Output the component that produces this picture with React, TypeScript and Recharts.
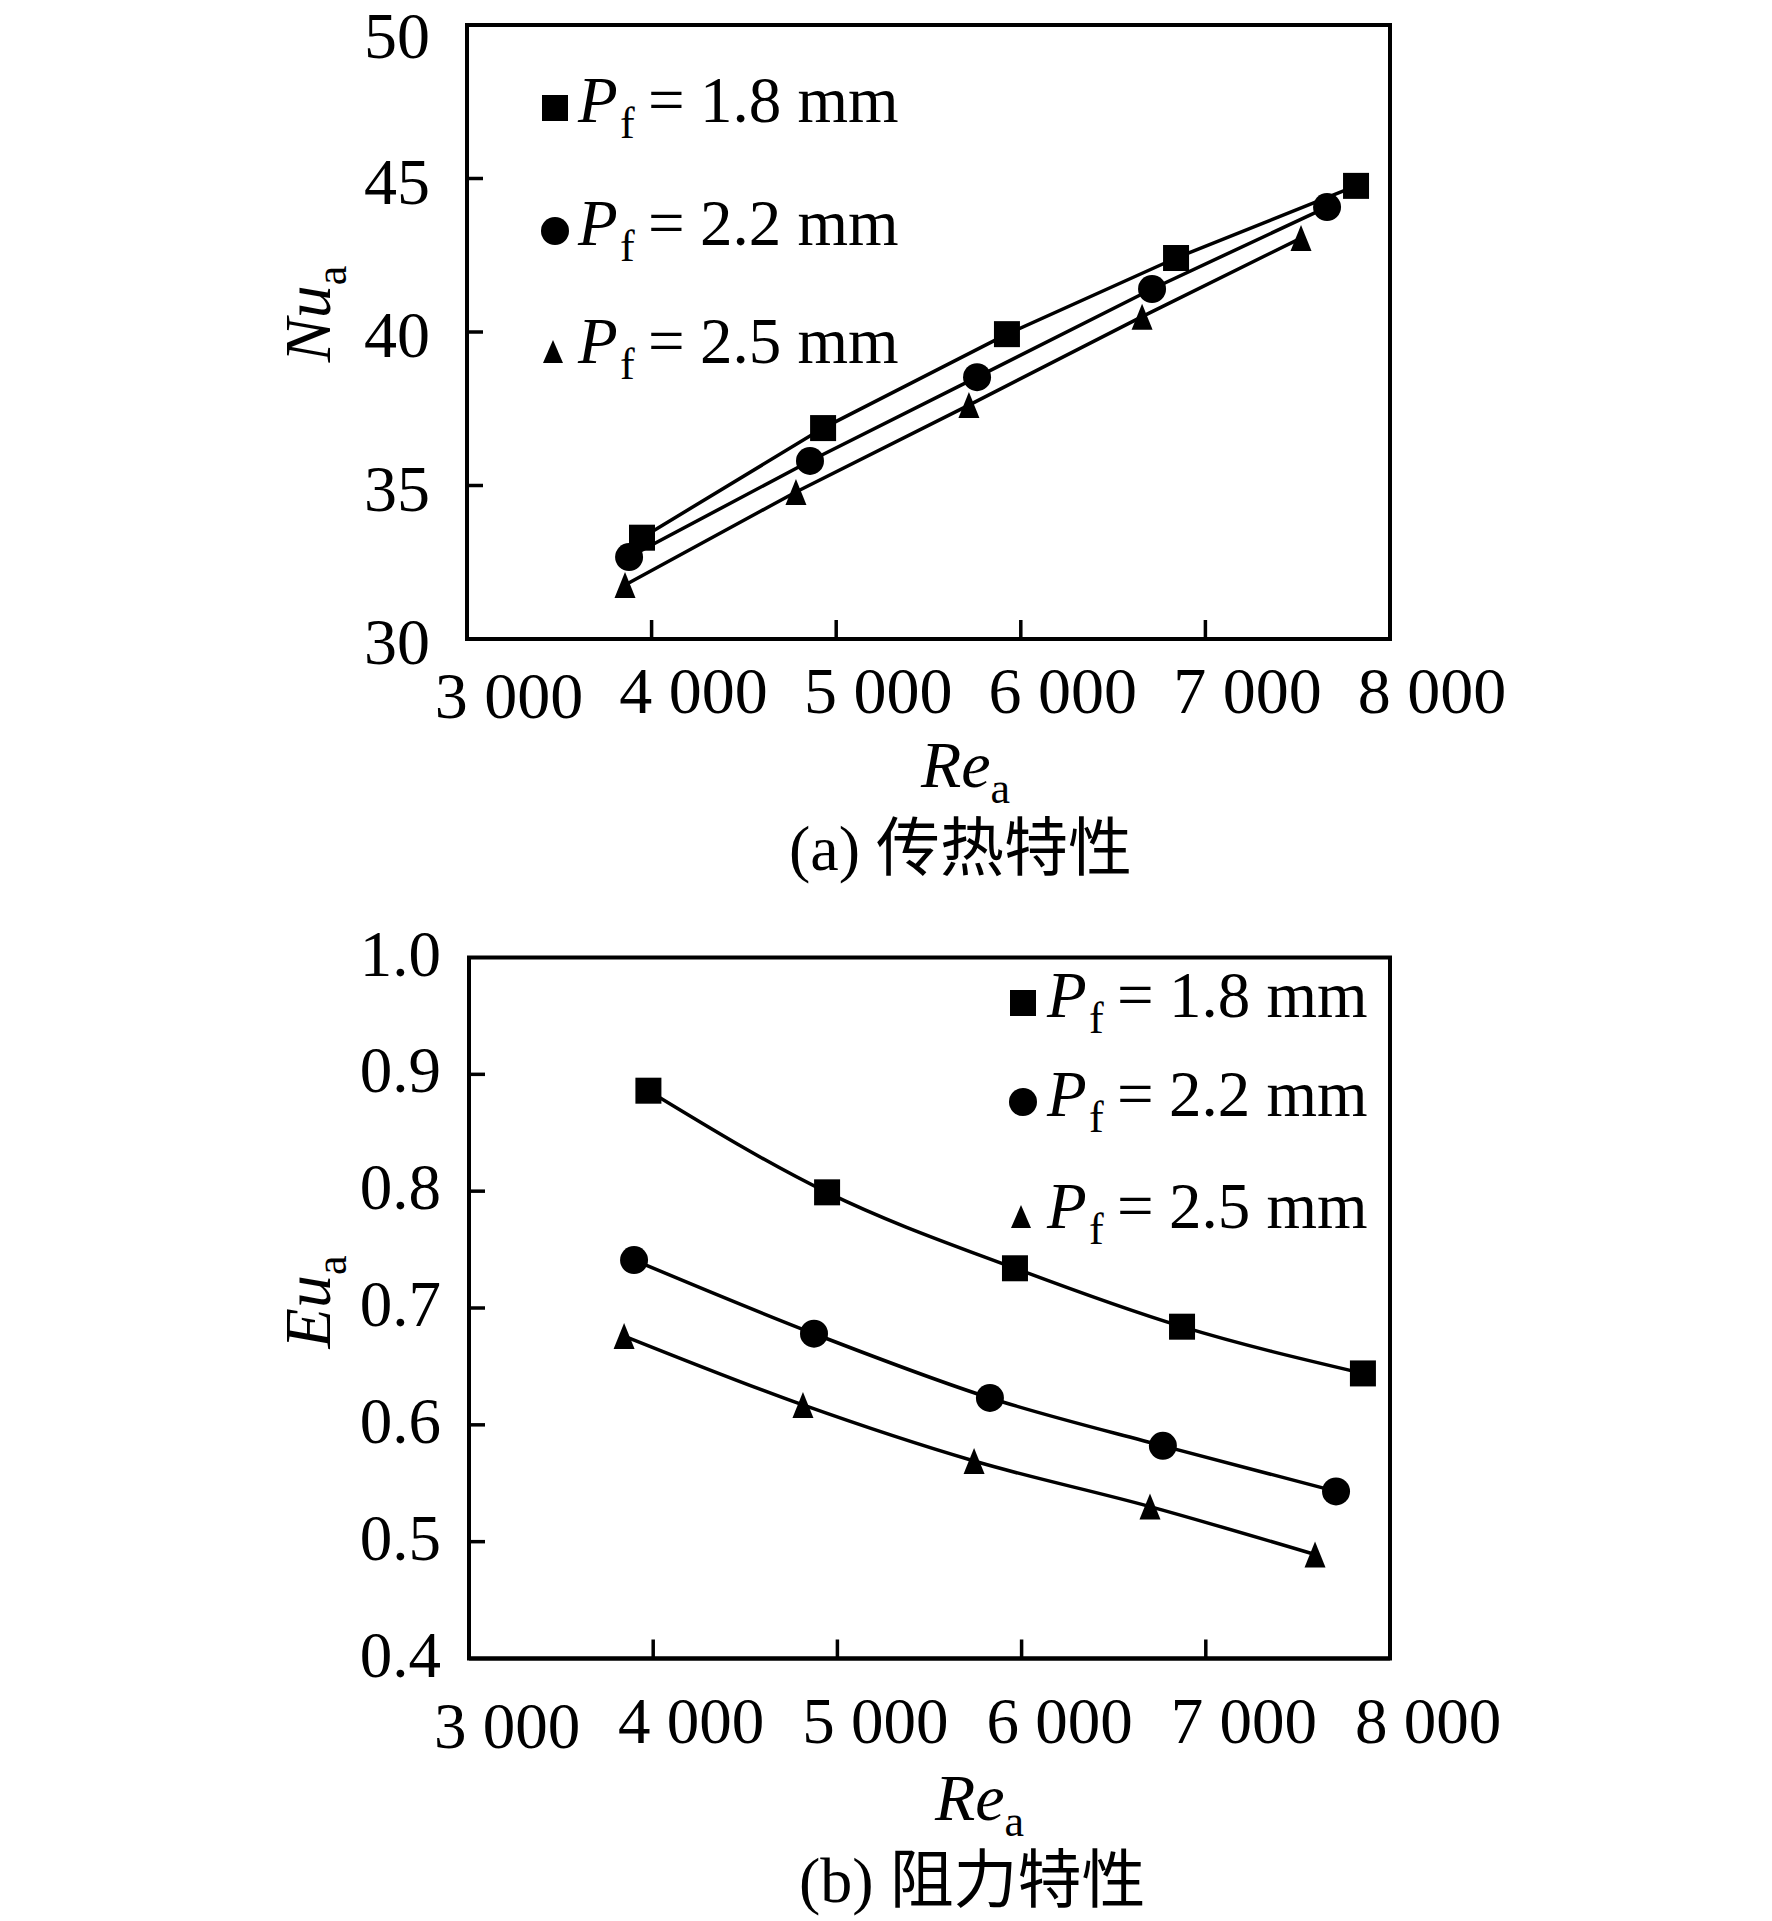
import React from "react";
import { LineChart, Line, XAxis, YAxis, ReferenceArea, Legend } from "recharts";

const SERIF = "'Liberation Serif', 'Times New Roman', serif";
const CAPTION_FONT = "'Liberation Serif', 'Noto Sans CJK SC', serif";

// (a) 传热特性: Re_a vs Nu_a
const reHeat18 = [3948, 4929, 5925, 6841, 7816];
const nuHeat18 = [33.3, 36.87, 39.93, 42.41, 44.76];
const reHeat22 = [3878, 4858, 5763, 6711, 7659];
const nuHeat22 = [32.67, 35.8, 38.53, 41.4, 44.07];
const reHeat25 = [3856, 4782, 5719, 6657, 7518];
const nuHeat25 = [31.76, 34.79, 37.62, 40.5, 43.06];

// (b) 阻力特性: Re_a vs Eu_a
const reDrag18 = [3974, 4944, 5964, 6871, 7853];
const euDrag18 = [0.886, 0.799, 0.734, 0.684, 0.644];
const reDrag22 = [3896, 4873, 5828, 6767, 7707];
const euDrag22 = [0.741, 0.678, 0.623, 0.582, 0.543];
const reDrag25 = [3842, 4813, 5742, 6697, 7593];
const euDrag25 = [0.676, 0.617, 0.569, 0.53, 0.489];

const pitchLabels = ["1.8", "2.2", "2.5"];
const markerKinds = ["square", "circle", "triangle"];
const reTicks = [3000, 4000, 5000, 6000, 7000, 8000];
const nuTicks = [30, 35, 40, 45, 50];
const euTicks = [0.4, 0.5, 0.6, 0.7, 0.8, 0.9, 1.0];

const toPoints = (xs: number[], ys: number[]) =>
  xs.map((re, i) => ({ re, v: ys[i] }));

const fmtRe = (v: number) =>
  `${Math.floor(v / 1000)} ${String(v % 1000).padStart(3, "0")}`;

function Marker({ kind, cx, cy, legend = false }: any) {
  if (cx == null || cy == null) return null;
  if (kind === "square") {
    const s = 26;
    return <rect x={cx - s / 2} y={cy - s / 2} width={s} height={s} fill="#000" />;
  }
  if (kind === "circle") return <circle cx={cx} cy={cy} r={14} fill="#000" />;
  const w = legend ? 20 : 21;
  const h = legend ? 23 : 26;
  return (
    <polygon
      points={`${cx},${cy - h / 2} ${cx + w / 2},${cy + h / 2} ${cx - w / 2},${cy + h / 2}`}
      fill="#000"
    />
  );
}

function ReTick({ x, y, payload, dx, dy, fontSize }: any) {
  const v = payload.value;
  const edge = v === 3000 || v === 8000;
  return (
    <g>
      {!edge && <line x1={x} x2={x} y1={y} y2={y - 19} stroke="#000" strokeWidth={3.5} />}
      <text
        x={x + dx}
        y={y + dy + (v === 3000 ? 5 : 0)}
        textAnchor="middle"
        fontFamily={SERIF}
        fontSize={fontSize}
        fill="#000"
      >
        {fmtRe(v)}
      </text>
    </g>
  );
}

function ValueTick({ x, y, payload, dx, dy, topDy, fontSize, domain, digits }: any) {
  const v = payload.value;
  const isTop = Math.abs(v - domain[1]) < 1e-9;
  const edge = Math.abs(v - domain[0]) < 1e-9 || isTop;
  return (
    <g>
      {!edge && <line x1={x} x2={x + 16} y1={y} y2={y} stroke="#000" strokeWidth={3.5} />}
      <text
        x={x + dx}
        y={y + (isTop ? topDy : dy)}
        textAnchor="end"
        fontFamily={SERIF}
        fontSize={fontSize}
        fill="#000"
      >
        {v.toFixed(digits)}
      </text>
    </g>
  );
}

function PitchLegend({ markerX, textX, baselines }: any) {
  return (
    <svg width={1772} height={400} style={{ display: "block", overflow: "visible" }}>
      {pitchLabels.map((lab, i) => {
        const bl = baselines[i];
        const kind = markerKinds[i];
        const my = kind === "triangle" ? bl - 11.5 : bl - 14;
        return (
          <g key={lab}>
            <Marker kind={kind} cx={kind === "triangle" ? markerX - 2 : markerX} cy={my} legend />
            <text x={textX} y={bl} fontFamily={SERIF} fontSize={65} fontStyle="italic" fill="#000">
              P
            </text>
            <text x={textX + 42} y={bl + 16} fontFamily={SERIF} fontSize={44} fill="#000">
              f
            </text>
            <text x={textX + 70} y={bl} fontFamily={SERIF} fontSize={65} fill="#000">
              =
            </text>
            <text x={textX + 122} y={bl} fontFamily={SERIF} fontSize={65} fill="#000">
              {`${lab} mm`}
            </text>
          </g>
        );
      })}
    </svg>
  );
}

function Panel({ cfg }: { cfg: any }) {
  return (
    <div style={{ position: "absolute", left: 0, top: cfg.top }}>
      <LineChart width={1772} height={cfg.height} margin={cfg.margin} style={{ fontFamily: SERIF }}>
        <XAxis
          type="number"
          dataKey="re"
          domain={[3000, 8000]}
          ticks={reTicks}
          interval={0}
          height={60}
          tickSize={0}
          tickMargin={0}
          tickLine={false}
          axisLine={{ stroke: "#000", strokeWidth: 4 }}
          tick={(p: any) => <ReTick {...p} dx={cfg.xTickDx} dy={cfg.xTickDy} fontSize={cfg.tickFont} />}
          label={() => (
            <g>
              <text x={cfg.reX} y={cfg.reY} fontFamily={SERIF} fontSize={66} fill="#000">
                <tspan fontStyle="italic">Re</tspan>
                <tspan fontSize={44} dy={16}>a</tspan>
              </text>
              <text x={cfg.capX} y={cfg.capY} fontFamily={CAPTION_FONT} fontSize={64} fill="#000">
                {cfg.caption}
              </text>
            </g>
          )}
        />
        <YAxis
          type="number"
          domain={cfg.yDomain}
          ticks={cfg.yTicks}
          interval={0}
          width={100}
          tickSize={0}
          tickMargin={0}
          tickLine={false}
          axisLine={{ stroke: "#000", strokeWidth: 4 }}
          tick={(p: any) => (
            <ValueTick
              {...p}
              dx={cfg.yTickDx}
              dy={cfg.yTickDy}
              topDy={cfg.yTopDy}
              fontSize={cfg.tickFont}
              domain={cfg.yDomain}
              digits={cfg.yDigits}
            />
          )}
          label={() => (
            <text
              x={cfg.titleX}
              y={cfg.titleY}
              transform={`rotate(-90 ${cfg.titleX} ${cfg.titleY})`}
              textAnchor="middle"
              fontFamily={SERIF}
              fontSize={66}
              fill="#000"
            >
              <tspan fontStyle="italic">{cfg.yName}</tspan>
              <tspan fontSize={44} dy={16}>a</tspan>
            </text>
          )}
        />
        <ReferenceArea
          x1={3000}
          x2={8000}
          y1={cfg.yDomain[0]}
          y2={cfg.yDomain[1]}
          fill="none"
          fillOpacity={0}
          stroke="#000"
          strokeWidth={4}
        />
        {cfg.series.map((data: any[], i: number) => (
          <Line
            key={pitchLabels[i]}
            data={data}
            dataKey="v"
            type={cfg.curve}
            stroke="#000"
            strokeWidth={3.5}
            isAnimationActive={false}
            activeDot={false}
            dot={(p: any) => <Marker key={`m-${i}-${p.index}`} kind={markerKinds[i]} cx={p.cx} cy={p.cy} />}
          />
        ))}
        <Legend
          layout="vertical"
          align="center"
          verticalAlign="middle"
          wrapperStyle={{ left: 0, top: 0, width: 1772, height: 400, pointerEvents: "none" }}
          content={() => (
            <PitchLegend markerX={cfg.legendMarkerX} textX={cfg.legendTextX} baselines={cfg.legendBaselines} />
          )}
        />
      </LineChart>
    </div>
  );
}

const heatPanel = {
  top: 0,
  height: 900,
  margin: { top: 25, right: 382, bottom: 201, left: 367 },
  series: [toPoints(reHeat18, nuHeat18), toPoints(reHeat22, nuHeat22), toPoints(reHeat25, nuHeat25)],
  curve: "linear",
  yDomain: [30, 50],
  yTicks: nuTicks,
  yDigits: 0,
  yName: "Nu",
  tickFont: 66,
  xTickDx: 42,
  xTickDy: 74,
  yTickDx: -37,
  yTickDy: 25,
  yTopDy: 33,
  reX: 921,
  reY: 787,
  capX: 789,
  capY: 870,
  caption: "(a) 传热特性",
  titleX: 330,
  titleY: 314,
  legendMarkerX: 555,
  legendTextX: 578,
  legendBaselines: [122, 245, 363],
};

const dragPanel = {
  top: 900,
  height: 1021,
  margin: { top: 57.5, right: 382, bottom: 202.5, left: 369 },
  series: [toPoints(reDrag18, euDrag18), toPoints(reDrag22, euDrag22), toPoints(reDrag25, euDrag25)],
  curve: "monotone",
  yDomain: [0.4, 1.0],
  yTicks: euTicks,
  yDigits: 1,
  yName: "Eu",
  tickFont: 65,
  xTickDx: 38,
  xTickDy: 84,
  yTickDx: -28,
  yTickDy: 18,
  yTopDy: 18,
  reX: 935,
  reY: 920,
  capX: 799,
  capY: 1002,
  caption: "(b) 阻力特性",
  titleX: 330,
  titleY: 402,
  legendMarkerX: 1023,
  legendTextX: 1047,
  legendBaselines: [117, 216, 328],
};

export default function App() {
  return (
    <div style={{ position: "absolute", left: 0, top: 0, width: 1772, height: 1921, background: "#fff" }}>
      <Panel cfg={heatPanel} />
      <Panel cfg={dragPanel} />
    </div>
  );
}
